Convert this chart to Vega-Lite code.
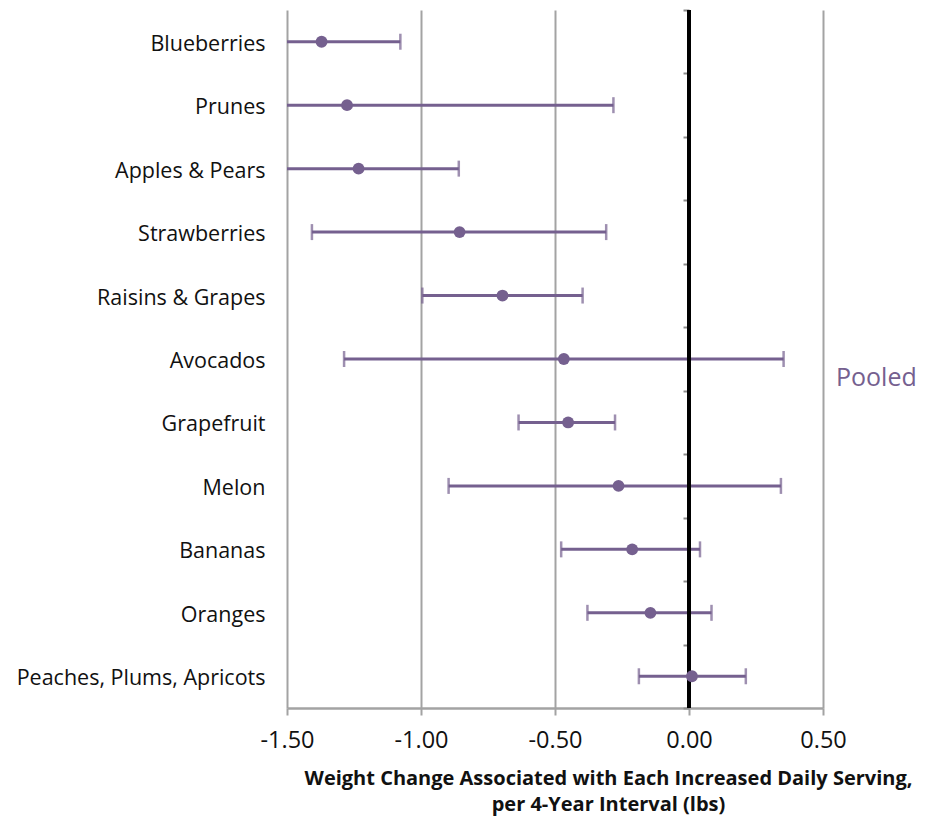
{
  "$schema": "https://vega.github.io/schema/vega-lite/v6.json",
  "width": 536,
  "height": 698,
  "autosize": "none",
  "padding": {"left": 287, "top": 10, "right": 108, "bottom": 112},
  "background": "white",
  "config": {"view": {"stroke": null}, "font": "Open Sans"},
  "data": {"values": [
    {"food": "Blueberries", "est": -1.371, "lo": -1.665, "hi": -1.077, "group": "Pooled"},
    {"food": "Prunes", "est": -1.276, "lo": -2.27, "hi": -0.282, "group": "Pooled"},
    {"food": "Apples & Pears", "est": -1.233, "lo": -1.607, "hi": -0.859, "group": "Pooled"},
    {"food": "Strawberries", "est": -0.856, "lo": -1.407, "hi": -0.309, "group": "Pooled"},
    {"food": "Raisins & Grapes", "est": -0.696, "lo": -0.995, "hi": -0.397, "group": "Pooled"},
    {"food": "Avocados", "est": -0.467, "lo": -1.287, "hi": 0.353, "group": "Pooled"},
    {"food": "Grapefruit", "est": -0.451, "lo": -0.636, "hi": -0.276, "group": "Pooled"},
    {"food": "Melon", "est": -0.263, "lo": -0.897, "hi": 0.343, "group": "Pooled"},
    {"food": "Bananas", "est": -0.212, "lo": -0.477, "hi": 0.041, "group": "Pooled"},
    {"food": "Oranges", "est": -0.144, "lo": -0.379, "hi": 0.084, "group": "Pooled"},
    {"food": "Peaches, Plums, Apricots", "est": 0.011, "lo": -0.187, "hi": 0.212, "group": "Pooled"}
  ]},
  "resolve": {"axis": {"y": "independent"}},
  "layer": [
    {
      "mark": {"type": "rule", "color": "#75608F", "strokeWidth": 3, "clip": true},
      "encoding": {
        "y": {"field": "food", "type": "nominal", "sort": null,
              "scale": {"type": "band", "paddingInner": 0, "paddingOuter": 0},
              "axis": {"title": null, "orient": "left", "domain": false, "ticks": false, "grid": false,
                       "labelPadding": 22, "labelOffset": 3, "labelFontSize": 21.5, "labelColor": "#111111", "labelFont": "Open Sans", "labelLimit": 0}},
        "x": {"field": "lo", "type": "quantitative",
              "scale": {"domain": [-1.5, 0.5], "nice": false, "zero": false},
              "axis": {"values": [-1.5, -1, -0.5, 0, 0.5],
                       "labelExpr": "replace(format(datum.value, '.2f'), '\u2212', '-')",
                       "labelFlush": false,
                       "grid": true, "gridColor": "#A3A3A3", "gridWidth": 2,
                       "domainColor": "#A3A3A3", "domainWidth": 2.5,
                       "tickColor": "#A3A3A3", "tickWidth": 2, "tickSize": 7,
                       "labelFontSize": 23.5, "labelColor": "#111111", "labelPadding": 13, "labelFont": "Open Sans",
                       "title": ["Weight Change Associated with Each Increased Daily Serving,", "per 4-Year Interval (lbs)"],
                       "titleFontSize": 20, "titleFontWeight": "bold", "titleColor": "#111111", "titleFont": "Open Sans",
                       "titleLineHeight": 26, "titlePadding": 17, "titleX": 321, "titleAnchor": null}},
        "x2": {"field": "hi"}
      }
    },
    {
      "mark": {"type": "tick", "color": "#75608F", "thickness": 2.5, "size": 16, "orient": "vertical", "clip": true},
      "encoding": {
        "y": {"field": "food", "type": "nominal", "sort": null, "axis": null},
        "x": {"field": "lo", "type": "quantitative"}
      }
    },
    {
      "mark": {"type": "tick", "color": "#75608F", "thickness": 2.5, "size": 16, "orient": "vertical", "clip": true},
      "encoding": {
        "y": {"field": "food", "type": "nominal", "sort": null, "axis": null},
        "x": {"field": "hi", "type": "quantitative"}
      }
    },
    {
      "data": {"values": [{"zero": 0}]},
      "mark": {"type": "rule", "color": "#000000", "strokeWidth": 4},
      "encoding": {"x": {"field": "zero", "type": "quantitative"}}
    },
    {
      "mark": {"type": "circle", "size": 140, "opacity": 1, "clip": true},
      "encoding": {
        "y": {"field": "food", "type": "nominal", "sort": null,
              "axis": {"orient": "left", "offset": -402, "title": null, "labels": false, "domain": false, "grid": false,
                       "ticks": true, "tickBand": "extent", "tickColor": "#8C8C8C", "tickWidth": 2, "tickSize": 6}},
        "x": {"field": "est", "type": "quantitative"},
        "color": {"field": "group", "type": "nominal",
                  "scale": {"range": ["#75608F"]},
                  "legend": {"title": null, "orient": "none", "legendX": 524, "legendY": 355,
                             "symbolOpacity": 0, "symbolSize": 1, "symbolStrokeWidth": 0,
                             "labelFontSize": 25, "labelColor": "#75608F", "labelFont": "Open Sans", "labelOffset": 0}}
      }
    }
  ]
}
